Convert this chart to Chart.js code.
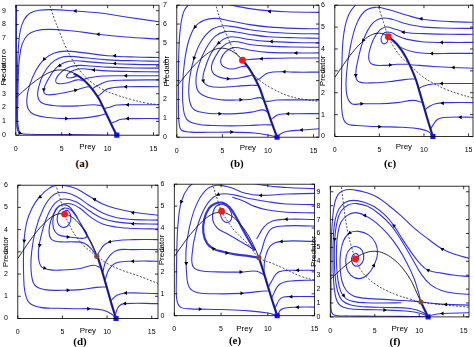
<!DOCTYPE html>
<html>
<head>
<meta charset="utf-8">
<script src="https://cdn.jsdelivr.net/npm/chart.js@4"></script>
<style>
  html, body { margin: 0; padding: 0; background: #fff; overflow: hidden; }
  body { position: relative; width: 474px; height: 347px; }
  .panel { position: absolute; }
  .tag {
    position: absolute;
    font: bold 11px "Liberation Serif", "Times New Roman", serif;
    transform: translate(-50%, -50%);
    color: #000;
  }
</style>
</head>
<body>
<script>
"use strict";

// ---- axis ticks ----
const xTicks = [0, 5, 10, 15];
const yTicks9 = [0, 1, 2, 3, 4, 5, 6, 7, 8, 9];
const yTicks7 = [0, 1, 2, 3, 4, 5, 6, 7];
const yTicks6 = [0, 1, 2, 3, 4, 5, 6];

// prey nullcline (solid black), same in every panel
const preyNullcline = [[0, 2.70], [1, 3.30], [2, 3.85], [3, 4.30], [4, 4.62], [5, 4.72], [6, 4.58],
  [7, 4.20], [8, 3.60], [9, 2.70], [9.5, 2.05], [10, 1.35], [10.5, 0.65], [11, 0]];

// prey-only equilibrium
const preyOnly = [11, 0];

// ---- (a) ----
const aDashed = [[3.6, 9.6], [4.2, 8.4], [4.8, 7.4], [5.5, 6.3], [6.3, 5.3], [7.2, 4.5], [8.2, 3.85],
  [9.5, 3.3], [11, 2.9], [12.5, 2.6], [14, 2.35], [15.6, 2.2]];
const aPaths = [
  [[15.6, 8.2], [12, 8.55], [9, 8.85], [6.5, 8.98], [4, 9.08], [2.5, 9.03], [1.5, 8.8], [0.9, 8.35], [0.5, 7.6], [0.3, 6.5], [0.2, 5], [0.17, 3], [0.15, 1.5], [0.17, 0.6], [0.35, 0.22]],
  [[15.6, 6.95], [12, 7.1], [9, 7.3], [6, 7.55], [3.6, 7.65], [2.2, 7.55], [1.3, 7.25], [0.7, 6.6], [0.4, 5.6], [0.27, 4.2], [0.22, 2.5], [0.2, 1.0], [0.35, 0.25]],
  [[0.07, 9.6], [0.07, 6], [0.08, 3], [0.1, 1], [0.2, 0.35], [0.5, 0.14], [1.5, 0.07], [4, 0.05], [8, 0.03], [11, 0]],
  [[15.6, 5.62], [13, 5.65], [10, 5.75], [7.5, 5.95], [5.5, 6.08], [4.2, 5.95], [3.1, 5.5], [2.2, 4.7], [1.5, 3.6], [1.2, 2.6], [1.35, 1.9], [2.0, 1.5], [3.5, 1.28], [5.5, 1.2], [7.5, 1.25], [9, 1.4], [9.85, 1.55]],
  [[15.6, 5.35], [13, 5.38], [10, 5.45], [7.5, 5.6], [6, 5.7], [4.8, 5.6], [3.8, 5.15], [3.0, 4.4], [2.5, 3.5], [2.4, 2.8], [2.8, 2.35], [4, 2.15], [5.5, 2.1], [7, 2.13], [8.5, 2.2], [9.45, 2.12]],
  [[15.6, 5.1], [13, 5.12], [10, 5.2], [8, 5.3], [6.5, 5.38], [5.3, 5.25], [4.3, 4.8], [3.5, 4.0], [3.05, 3.3], [3.3, 2.95], [4.5, 2.98], [6.5, 3.25], [7.8, 3.5], [8.15, 3.47]],
  [[15.6, 4.85], [13, 4.86], [10, 4.92], [8.2, 5.0], [7, 5.05], [5.9, 4.95], [5.0, 4.6], [4.4, 4.1], [4.5, 3.75], [5.5, 3.78], [6.7, 4.0], [7.4, 3.96]],
  [[15.6, 4.58], [13, 4.6], [10, 4.65], [8.5, 4.72], [7.3, 4.8], [6.4, 4.72], [5.7, 4.45], [5.55, 4.2], [6.0, 4.15], [6.75, 4.3]],
  [[15.6, 4.3], [12, 4.3], [9.5, 4.28], [8, 4.15], [7.3, 4.02]],
  [[15.6, 4.0], [12, 3.98], [10, 3.9], [8.8, 3.55], [8.3, 3.33]],
  [[15.6, 3.5], [12, 3.5], [10, 3.35], [9.2, 2.95], [8.9, 2.79]],
  [[15.6, 2.2], [13, 2.2], [11, 2.18], [10.1, 2.0], [9.6, 1.91]],
  [[15.6, 1.2], [13, 1.2], [11.5, 1.15], [10.7, 0.95], [10.35, 0.86]]
];
const aArrows = [[6.5, 8.98, 270], [9, 7.3, 270], [10.8, 5.74, 270], [10.8, 5.18, 270], [8.5, 4.71, 270],
  [12, 4.3, 270], [12, 3.5, 270], [12.2, 2.2, 270], [12.2, 1.2, 270], [3.1, 5.5, 215], [3.05, 3.3, 185],
  [6.5, 3.25, 80], [5.5, 1.2, 90], [4.8, 5.03, 225], [0.45, 0.15, 110], [5.9, 0.04, 90]];

// ---- (b) ----
const bDashed = [[4.1, 7.3], [4.8, 6.2], [5.4, 5.5], [6.0, 4.85], [6.6, 4.4], [7.2, 4.08], [8, 3.55],
  [9, 3.05], [10.4, 2.6], [12.2, 2.2], [14, 2.0], [15.6, 1.9]];
const bFocus = [7.2, 4.08];
const bPaths = [
  [[15.6, 6.62], [12, 6.65], [9, 6.75], [6.5, 6.95], [4.5, 7.2]],
  [[1.6, 7.2], [0.8, 6.7], [0.4, 5.8], [0.22, 4.5], [0.18, 3], [0.18, 1.6], [0.25, 0.75], [0.5, 0.38], [1.5, 0.27], [3.5, 0.26], [6, 0.27], [8.5, 0.22], [10, 0.12], [11, 0]],
  [[15.6, 5.75], [13, 5.77], [10, 5.85], [8, 5.97], [6, 6.15], [4.3, 6.3], [3, 6.2], [2, 5.85], [1.3, 5.1], [0.85, 4], [0.65, 2.8], [0.7, 1.6], [1.1, 0.95], [2.2, 0.7], [4, 0.62], [6, 0.6], [8, 0.62], [9.5, 0.66], [10.5, 0.65]],
  [[15.6, 5.48], [13, 5.5], [10, 5.58], [8, 5.7], [6.3, 5.85], [5, 5.9], [3.8, 5.7], [2.7, 5.1], [1.9, 4.2], [1.4, 3.1], [1.35, 2.1], [1.8, 1.5], [3, 1.3], [4.7, 1.24], [6.5, 1.25], [8.2, 1.33], [9.5, 1.45], [10.05, 1.28]],
  [[15.6, 5.25], [13, 5.27], [10, 5.33], [8, 5.45], [6.5, 5.58], [5.3, 5.6], [4.2, 5.35], [3.2, 4.7], [2.4, 3.8], [2.1, 3.0], [2.4, 2.4], [3.5, 2.1], [5, 1.98], [6.5, 1.97], [8, 2.0], [9.1, 2.1], [9.55, 1.98]],
  [[15.6, 5.0], [13, 5.02], [10, 5.08], [8, 5.18], [6.6, 5.3], [5.6, 5.3], [4.6, 5.0], [3.7, 4.4], [3.0, 3.5], [2.9, 3.0], [3.5, 2.72], [5, 2.65], [6.5, 2.7], [8, 2.75], [8.95, 2.74]],
  [[15.6, 4.77], [13, 4.78], [10, 4.83], [8, 4.92], [6.8, 5.05], [5.9, 5.05], [5.0, 4.8], [4.2, 4.25], [3.8, 3.7], [4.2, 3.3], [5.5, 3.1], [7, 3.15], [8.3, 3.3]],
  [[15.6, 4.47], [13, 4.47], [10, 4.5], [8.2, 4.6], [7, 4.72], [6.2, 4.75], [5.4, 4.55], [4.85, 4.15], [5.0, 3.8], [6.0, 3.62], [7.2, 3.75], [7.7, 3.78]],
  [[15.6, 4.2], [13, 4.2], [10, 4.18], [8.5, 4.14], [7.2, 4.08]],
  [[15.6, 3.45], [13, 3.45], [11.8, 3.47], [10, 3.4], [8.9, 3.05], [8.6, 3.06]],
  [[15.6, 1.98], [13, 1.98], [11, 1.97], [10, 1.9], [9.6, 1.91]],
  [[15.6, 1.25], [13, 1.24], [11.2, 1.2], [10.5, 1.0], [10.3, 0.93]],
  [[15.6, 0.45], [13.7, 0.38], [12, 0.3], [11.3, 0.15], [11, 0]]
];
const bArrows = [[10.2, 6.67, 270], [2.0, 5.85, 220], [1.9, 4.2, 195], [4.6, 5.0, 230], [9.3, 4.16, 270],
  [10.4, 5.07, 270], [13.1, 4.47, 270], [11.8, 3.47, 270], [12.2, 1.24, 270], [13.7, 0.38, 270],
  [4.7, 1.24, 90], [6, 0.27, 90], [5.6, 3.1, 90], [2.9, 3.0, 170], [7.0, 1.98, 90]];

// ---- (c) ----
const cDashed = [[4.7, 6.2], [5.2, 5.55], [5.6, 5.05], [6.0, 4.56], [6.6, 4.1], [7.4, 3.65], [8.4, 3.28],
  [9.8, 2.75], [11, 2.45], [12.5, 2.15], [14, 1.93], [15.6, 1.75]];
const cFocus = [6.0, 4.56];
const cPaths = [
  [[3.4, 6.2], [2.2, 5.95], [1.4, 5.4], [0.95, 4.5], [0.8, 3.3], [0.75, 2], [0.85, 1.0], [1.3, 0.6], [2.5, 0.5], [5, 0.45], [7.5, 0.42], [9.5, 0.35], [10.6, 0.2], [11, 0]],
  [[15.6, 5.22], [13, 5.25], [10, 5.35], [8, 5.55], [6, 5.8], [4.5, 5.9], [3.3, 5.7], [2.4, 5.1], [1.7, 4.0], [1.3, 2.8], [1.35, 1.9], [1.9, 1.5], [3.0, 1.5], [5, 1.5], [7, 1.55], [8.8, 1.65], [9.8, 1.56]],
  [[15.6, 4.94], [13, 4.95], [10, 5.0], [8, 5.15], [6.5, 5.35], [5.2, 5.4], [4.1, 5.1], [3.2, 4.4], [2.6, 3.5], [2.35, 2.8], [2.7, 2.5], [4, 2.45], [6, 2.5], [7.8, 2.6], [9.05, 2.64]],
  [[15.6, 4.67], [13, 4.67], [10, 4.7], [8, 4.75], [6.8, 4.9], [5.7, 5.0], [4.8, 4.75], [4.1, 4.2], [3.8, 3.6], [4.2, 3.3], [5.5, 3.25], [7, 3.3], [8.35, 3.3]],
  [[15.6, 4.3], [13, 4.3], [10, 4.32], [8, 4.45], [7, 4.6], [6.3, 4.75], [5.6, 4.75], [5.2, 4.5], [5.4, 4.25], [5.85, 4.3], [6.0, 4.56]],
  [[15.6, 3.8], [13, 3.8], [10.9, 3.79], [9, 3.85], [7.5, 4.05], [6.6, 4.35], [6.0, 4.56]],
  [[15.6, 3.12], [13.3, 3.15], [11, 3.2], [9.5, 3.25], [8.4, 3.28]],
  [[15.6, 2.42], [13, 2.42], [11, 2.4], [9.9, 2.3], [9.4, 2.18]],
  [[15.6, 1.55], [13, 1.55], [11.3, 1.5], [10.5, 1.35], [10.1, 1.21]],
  [[15.6, 0.88], [13, 0.88], [11.6, 0.8], [10.9, 0.45], [10.75, 0.33]]
];
const cArrows = [[9.7, 5.38, 270], [7.7, 4.76, 270], [10.9, 3.79, 270], [13.3, 3.15, 270], [12.1, 1.52, 270],
  [14.1, 0.88, 270], [3.2, 4.4, 215], [2.35, 2.8, 180], [3.0, 1.5, 90], [5.0, 0.45, 90], [6.2, 3.27, 90],
  [12, 4.3, 270], [12, 2.42, 270]];

// ---- (d) ----
const dDashed = [[4.1, 6.2], [4.7, 5.45], [5.24, 4.7], [5.8, 4.2], [6.5, 3.7], [7.6, 3.2], [8.85, 2.8],
  [10, 2.48], [11.5, 2.2], [13.5, 1.92], [15.7, 1.58]];
const dFocus = [5.24, 4.7];
const dSaddle = [8.85, 2.8];
const dPaths = [
  [[15.7, 4.65], [13, 4.78], [11, 4.95], [9.5, 5.15], [8, 5.5], [6.5, 5.85], [5, 6.0], [4.0, 5.97], [3, 5.7], [2.0, 5.25], [1.2, 4.6], [0.8, 3.9], [0.65, 3.0], [0.65, 2.0], [0.8, 1.2], [1.3, 0.7], [2.5, 0.5], [4.5, 0.46], [6.5, 0.44], [8, 0.44], [9.5, 0.38], [10.5, 0.2], [11, 0]],
  [[15.7, 4.43], [13, 4.45], [11, 4.55], [9.5, 4.75], [8, 5.1], [6.5, 5.5], [5, 5.68], [3.8, 5.5], [2.8, 4.9], [2.0, 4.0], [1.55, 3.0], [1.5, 2.1], [1.9, 1.5], [3, 1.3], [5, 1.27], [7, 1.3], [8.8, 1.4], [9.95, 1.42]],
  [[15.7, 4.25], [13, 4.27], [11, 4.35], [9.5, 4.5], [8, 4.85], [6.5, 5.25], [5.2, 5.38], [4.2, 5.2], [3.3, 4.6], [2.6, 3.7], [2.3, 2.9], [2.6, 2.35], [3.5, 2.2], [5, 2.18], [7, 2.25], [8.5, 2.4], [9.33, 2.27]],
  [[15.7, 4.03], [13, 4.05], [11, 4.12], [9.5, 4.25], [8.2, 4.55], [7, 4.95], [6, 5.15], [5.1, 5.15], [4.3, 4.9], [3.7, 4.4], [3.5, 3.9], [3.8, 3.55], [4.8, 3.45], [6.2, 3.45], [7.4, 3.4], [8.2, 3.15], [8.85, 2.8]],
  [[8.85, 2.8], [8.3, 3.3], [7.7, 3.75], [7.1, 4.2], [6.4, 4.72], [5.7, 5.05], [5.0, 5.12], [4.3, 4.95], [3.95, 4.5], [4.0, 4.05], [4.5, 3.78], [5.5, 3.68], [6.6, 3.63], [7.5, 3.62], [7.75, 3.78], [7.3, 4.1], [6.6, 4.55], [5.9, 4.9], [5.2, 4.97], [4.65, 4.82], [4.4, 4.5], [4.6, 4.2], [5.2, 4.1], [5.75, 4.25], [5.95, 4.55], [5.7, 4.82], [5.3, 4.85], [5.1, 4.72], [5.24, 4.7]],
  [[15.7, 3.55], [13, 3.55], [11, 3.5], [9.8, 3.35], [9.2, 3.05], [8.85, 2.8]],
  [[15.7, 3.1], [12.9, 3.1], [11, 3.05], [9.9, 2.6], [9.5, 2.05]],
  [[15.7, 2.58], [12.9, 2.58], [11, 2.5], [10.2, 2.2], [9.75, 1.7]],
  [[15.7, 1.12], [12.1, 1.15], [11.1, 1.05], [10.4, 0.79]],
  [[15.7, 0.67], [12, 0.67], [11.3, 0.55], [10.9, 0.13]]
];
const dArrows = [[8.6, 5.36, 285], [12.9, 4.76, 270], [12.9, 4.26, 270], [12.9, 2.58, 270], [12.1, 1.15, 270],
  [12, 0.67, 270], [2.5, 5.47, 235], [0.72, 3.5, 185], [2.45, 3.3, 185], [3.0, 2.27, 100], [5.6, 1.27, 90],
  [7.9, 0.44, 90], [5.6, 3.67, 90], [10.3, 3.45, 260]];

// ---- (e) ----
const eDashed = [[3.9, 6.2], [4.5, 5.45], [5.05, 4.77], [5.8, 4.25], [6.5, 3.85], [7.9, 3.25], [9.05, 2.65],
  [10.5, 2.38], [11.5, 2.2], [13.5, 1.8], [15, 1.62]];
const eFocus = [5.05, 4.77];
const eSaddle = [9.05, 2.65];
const ePaths = [
  [[2.6, 6.2], [1.5, 5.85], [0.75, 5.2], [0.4, 4.2], [0.27, 3], [0.22, 1.6], [0.28, 0.7], [0.7, 0.38], [1.8, 0.31], [2.74, 0.3], [5, 0.28], [8, 0.22], [10, 0.12], [11, 0]],
  [[15, 5.8], [12, 5.85], [9.5, 5.95], [8, 6.1], [7, 6.25]],
  [[15, 5.58], [12, 5.55], [9.25, 5.49], [7.5, 5.6], [6, 5.85], [4.5, 5.95], [3.3, 5.7], [2.3, 5.0], [1.6, 4.0], [1.25, 3.0], [1.3, 2.0], [1.6, 1.3], [2.5, 1.05], [4.5, 1.0], [7.2, 1.02], [9, 1.1], [10.15, 1.14]],
  [[15, 5.07], [12, 5.1], [10, 5.2], [8, 5.35], [6.5, 5.5], [5, 5.55], [3.9, 5.3], [3, 4.7], [2.3, 3.8], [1.9, 2.8], [2.0, 2.25], [2.8, 2.05], [4.5, 2.0], [7.1, 1.99], [8.8, 2.03], [9.65, 1.84]],
  [[8.6, 2.98], [7.8, 3.2], [6.8, 3.45], [5.6, 3.75], [4.6, 4.0], [4.1, 4.4], [4.3, 4.9], [4.9, 5.08], [5.6, 5.0], [6.1, 4.7], [6.1, 4.4], [5.7, 4.25], [5.2, 4.35], [4.95, 4.6], [5.05, 4.77]],
  [[15, 4.69], [12, 4.72], [10, 4.82], [8.5, 5.0], [7.3, 5.25], [6.2, 5.4]],
  [[15, 4.39], [12, 4.4], [10.5, 4.32], [9.6, 4.05], [8.8, 3.5]],
  [[15, 4.09], [12, 4.1], [10.5, 4.0], [9.8, 3.6], [9.35, 3.0], [9.05, 2.65]],
  [[15, 3.39], [11.5, 3.39], [10.3, 3.2], [9.7, 2.6], [9.58, 1.94]],
  [[15, 2.07], [13.2, 2.07], [11.2, 2.0], [10.3, 1.5], [10.05, 1.28]],
  [[15, 1.62], [13, 1.6], [11.3, 1.45], [10.5, 0.9], [10.4, 0.79]],
  [[15, 0.87], [12.5, 0.87], [11.4, 0.8], [10.75, 0.33]],
  [[15, 0.39], [13.2, 0.39], [11.5, 0.3], [11, 0.02]]
];
// bold loop through the saddle in (e)
const eLoop = [[9.05, 2.65], [8, 2.72], [6.5, 2.8], [5.2, 2.92], [4.2, 3.05], [3.5, 3.3], [3.1, 3.8], [3.2, 4.4],
  [3.7, 4.9], [4.4, 5.12], [5.2, 5.15], [5.9, 4.95], [6.6, 4.5], [7.3, 3.95], [8, 3.42], [8.6, 2.98]];
const eArrows = [[9.25, 5.49, 270], [4.7, 5.53, 245], [11.46, 3.39, 270], [13.2, 2.07, 270], [13.2, 0.39, 270],
  [12.5, 0.87, 270], [0.75, 5.2, 205], [1.28, 2.4, 180], [5.6, 2.86, 90], [4.2, 3.05, 80], [7.1, 1.99, 90],
  [7.2, 1.02, 90], [2.74, 0.3, 90], [12, 4.4, 270]];

// ---- (f) ----
const fDashed = [[1.2, 9.6], [1.45, 8.3], [1.7, 7.1], [2.0, 6.0], [2.4, 5.0], [2.83, 4.17], [3.4, 3.4], [4.2, 2.8],
  [5.2, 2.3], [6.3, 1.9], [7.6, 1.55], [8.9, 1.3], [10.2, 1.07], [11.5, 0.95], [13, 0.85], [15.6, 0.7]];
const fFocus = [2.83, 4.17];
const fSaddle = [10.2, 1.07];
const fPaths = [
  [[15.6, 4.22], [14, 4.5], [12.6, 4.88], [11, 5.6], [9.5, 6.35], [8, 7.25], [6.5, 8.05], [5.2, 8.64], [4, 8.95], [2.8, 9.12], [1.8, 9.15], [1.0, 8.9], [0.5, 8.2], [0.25, 7], [0.12, 5.5], [0.08, 3.5], [0.08, 1.5], [0.12, 0.4], [0.5, 0.12], [2, 0.07], [5, 0.05], [8, 0.04], [10, 0.02], [11, 0]],
  [[15.6, 2.9], [14, 3.0], [12.5, 3.15], [11, 3.35], [10, 3.9], [9, 4.75], [8, 5.7], [7.17, 6.55], [6.2, 7.3], [5, 7.9], [3.8, 8.25], [2.6, 8.38], [1.7, 8.25], [1.0, 7.8], [0.55, 7.0], [0.35, 5.8], [0.3, 4.3], [0.35, 2.8], [0.55, 1.6], [1.0, 0.9], [2, 0.6], [4, 0.52], [6.1, 0.5], [8.5, 0.42], [10.2, 0.25], [11, 0.02]],
  [[15.6, 1.62], [14, 1.7], [12.5, 1.9], [11.3, 2.3], [10.3, 3.0], [9.2, 4.2], [8, 5.5], [6.8, 6.6], [5.5, 7.4], [4.2, 7.95], [3, 8.15], [2, 8.05], [1.2, 7.6], [0.75, 6.8], [0.5, 5.6], [0.45, 4.2], [0.55, 2.9], [0.8, 1.9], [1.3, 1.2], [2.3, 0.85], [4, 0.72], [6.5, 0.68], [9, 0.6], [10.5, 0.3], [11, 0]],
  [[10.2, 1.07], [9.9, 1.8], [9.4, 2.8], [8.6, 3.9], [7.6, 5.0], [6.4, 6.0], [5.1, 6.8], [3.9, 7.3], [2.8, 7.5], [1.9, 7.3], [1.2, 6.8], [0.85, 6.0], [0.7, 5.0], [0.7, 3.8], [0.85, 2.7], [1.2, 1.8], [1.8, 1.3], [2.7, 1.1], [4, 1.02], [6, 1.0], [8, 1.02]],
  [[2.83, 4.17], [3.05, 4.05], [3.2, 4.3], [2.95, 4.55], [2.55, 4.45], [2.4, 4.05], [2.7, 3.7], [3.3, 3.7], [3.75, 4.15], [3.6, 4.75], [3.0, 5.05], [2.3, 4.95], [1.8, 4.4], [1.8, 3.6], [2.3, 3.0], [3.2, 2.75], [4.2, 3.05], [4.9, 3.7], [5.3, 4.5], [5.1, 5.3], [4.3, 5.9], [3.2, 6.15], [2.2, 6.05], [1.5, 5.5], [1.15, 4.6], [1.1, 3.6], [1.3, 2.6], [1.8, 1.9], [2.6, 1.5], [3.8, 1.35], [5.5, 1.28], [7.5, 1.2], [9, 1.15], [10.2, 1.07]],
  [[15.6, 0.85], [13, 0.9], [11.5, 0.98], [10.2, 1.07]],
  [[15.6, 0.3], [12.6, 0.24], [11.5, 0.14], [11, 0.02]]
];
const fArrows = [[7.17, 6.55, 305], [11, 3.35, 295], [0.5, 5.6, 180], [1.5, 1.55, 135], [6.1, 0.5, 90],
  [12.6, 0.24, 270], [3.9, 7.3, 270], [4.9, 3.7, 30], [13, 0.9, 270], [12.6, 4.88, 300], [2.2, 6.05, 240]];

const BLUE = "#3434da";
const FONT = "\"Liberation Sans\", Arial, sans-serif";
Chart.defaults.font.family = FONT;
Chart.defaults.color = "#000";

const panels = [
  { tag: "(a)", l: 16, t: 4, r: 159, b: 135, ylabX: 4, xlabY: 147, tagX: 82, tagY: 163,
    xMax: 15.6, yMax: 9.4, yTicks: yTicks9, paths: aPaths, dashed: aDashed, arrows: aArrows, ridge: [6.3, 4.45] },
  { tag: "(b)", l: 177, t: 4, r: 319, b: 137, ylabX: 167, xlabY: 148, tagX: 237, tagY: 163,
    xMax: 15.6, yMax: 7, yTicks: yTicks7, paths: bPaths, dashed: bDashed, arrows: bArrows, focus: bFocus, ridge: bFocus },
  { tag: "(c)", l: 335, t: 4, r: 473, b: 136, ylabX: 323, xlabY: 146.7, tagX: 390, tagY: 163,
    xMax: 15.5, yMax: 6, yTicks: yTicks6, paths: cPaths, dashed: cDashed, arrows: cArrows, focus: cFocus, ridge: cFocus },
  { tag: "(d)", l: 18, t: 184, r: 158, b: 318, ylabX: 6, xlabY: 330.7, tagX: 80, tagY: 340.5,
    xMax: 15.7, yMax: 6, yTicks: yTicks6, paths: dPaths, dashed: dDashed, arrows: dArrows, focus: dFocus, saddle: dSaddle, ridge: dSaddle },
  { tag: "(e)", l: 174, t: 183, r: 315, b: 316, ylabX: 161.5, xlabY: 329.5, tagX: 235, tagY: 340,
    xMax: 15, yMax: 6, yTicks: yTicks6, paths: ePaths, dashed: eDashed, arrows: eArrows, focus: eFocus, saddle: eSaddle, ridge: eSaddle, loop: eLoop },
  { tag: "(f)", l: 330, t: 185, r: 469, b: 317, ylabX: 313.5, xlabY: 329.3, tagX: 395, tagY: 341,
    xMax: 15.6, yMax: 9.4, yTicks: yTicks9, paths: fPaths, dashed: fDashed, arrows: fArrows, focus: fFocus, saddle: fSaddle, ridge: fSaddle }
];

function pts(list) {
  return list.map(([x, y]) => ({ x, y }));
}

// box around the plot with short inward ticks on all four sides
const framePlugin = {
  id: "frame",
  afterDatasetsDraw(chart) {
    const { ctx, chartArea: { left, top, right, bottom }, scales: { x, y } } = chart;
    ctx.save();
    ctx.strokeStyle = "#000";
    ctx.lineWidth = 0.8;
    ctx.strokeRect(left, top, right - left, bottom - top);
    ctx.beginPath();
    x.ticks.forEach(t => {
      const px = x.getPixelForValue(t.value);
      ctx.moveTo(px, bottom); ctx.lineTo(px, bottom - 3);
      ctx.moveTo(px, top); ctx.lineTo(px, top + 3);
    });
    y.ticks.forEach(t => {
      const py = y.getPixelForValue(t.value);
      ctx.moveTo(left, py); ctx.lineTo(left + 3, py);
      ctx.moveTo(right, py); ctx.lineTo(right - 3, py);
    });
    ctx.stroke();
    ctx.restore();
  }
};

function buildPanel(p) {
  const padT = 5, padR = 5;
  const canvasLeft = p.ylabX - 4.8;
  const canvasTop = p.t - padT;
  const yw = p.l - canvasLeft;
  const xh = p.xlabY - p.b + 4.8;
  const w = Math.round(p.r + padR - canvasLeft);
  const h = Math.round(p.b + xh - canvasTop);

  const box = document.createElement("div");
  box.className = "panel";
  box.style.left = canvasLeft + "px";
  box.style.top = canvasTop + "px";
  const canvas = document.createElement("canvas");
  canvas.width = w;
  canvas.height = h;
  box.appendChild(canvas);
  document.body.appendChild(box);

  const tag = document.createElement("div");
  tag.className = "tag";
  tag.textContent = p.tag;
  tag.style.left = p.tagX + "px";
  tag.style.top = p.tagY + "px";
  document.body.appendChild(tag);

  const datasets = [];
  if (p.focus) {
    datasets.push({ data: pts([p.focus]), pointRadius: 3.4, pointBackgroundColor: "#f01c1c",
      pointBorderWidth: 0, clip: false });
  }
  if (p.saddle) {
    datasets.push({ data: pts([p.saddle]), pointRadius: 2.6, pointBackgroundColor: "#7d4b42",
      pointBorderWidth: 0, clip: false });
  }
  datasets.push({ data: pts([preyOnly]), pointStyle: "rect", pointRadius: 3.6, pointBackgroundColor: "#1414ff",
    pointBorderWidth: 0, clip: false });
  datasets.push({
    data: pts(p.arrows.map(a => [a[0], a[1]])),
    pointStyle: "triangle",
    pointRadius: 2.3,
    pointRotation: p.arrows.map(a => a[2]),
    pointBackgroundColor: "#000",
    pointBorderWidth: 0
  });
  datasets.push({ data: pts(p.dashed), showLine: true, borderColor: "#222", borderWidth: 0.8,
    borderDash: [2, 1.6], pointRadius: 0, tension: 0.4 });
  datasets.push({ data: pts(preyNullcline), showLine: true, borderColor: "#111", borderWidth: 0.9,
    pointRadius: 0, tension: 0.4 });

  // trajectory hugging the descending side of the prey nullcline
  const ridge = [p.ridge].concat(preyNullcline.filter(q => q[0] > p.ridge[0]));
  datasets.push({ data: pts(ridge), showLine: true, borderColor: BLUE, borderWidth: 2.3,
    pointRadius: 0, tension: 0.4 });
  if (p.loop) {
    datasets.push({ data: pts(p.loop), showLine: true, borderColor: BLUE, borderWidth: 2.2,
      pointRadius: 0, tension: 0.4 });
  }
  p.paths.forEach(path => {
    datasets.push({ data: pts(path), showLine: true, borderColor: BLUE, borderWidth: 1.1,
      pointRadius: 0, tension: 0.4 });
  });

  const tickFont = { size: 7 };
  new Chart(canvas.getContext("2d"), {
    type: "scatter",
    data: { datasets },
    options: {
      responsive: false,
      animation: false,
      events: [],
      layout: { padding: { top: padT, right: padR, left: 0, bottom: 0 } },
      plugins: { legend: { display: false }, tooltip: { enabled: false } },
      scales: {
        x: {
          type: "linear", min: 0, max: p.xMax,
          afterBuildTicks: s => { s.ticks = xTicks.map(v => ({ value: v })); },
          afterFit: s => { s.height = xh; },
          grid: { display: false },
          border: { display: false },
          ticks: { font: tickFont, padding: 1.5, maxRotation: 0, autoSkip: false },
          title: { display: true, text: "Prey", font: { size: 8 }, padding: 0 }
        },
        y: {
          type: "linear", min: 0, max: p.yMax,
          afterBuildTicks: s => { s.ticks = p.yTicks.map(v => ({ value: v })); },
          afterFit: s => { s.width = yw; },
          grid: { display: false },
          border: { display: false },
          ticks: { font: tickFont, padding: 2, autoSkip: false },
          title: { display: true, text: "Predator", font: { size: 8 }, padding: 0 }
        }
      }
    },
    plugins: [framePlugin]
  });
}

panels.forEach(buildPanel);
</script>
</body>
</html>
